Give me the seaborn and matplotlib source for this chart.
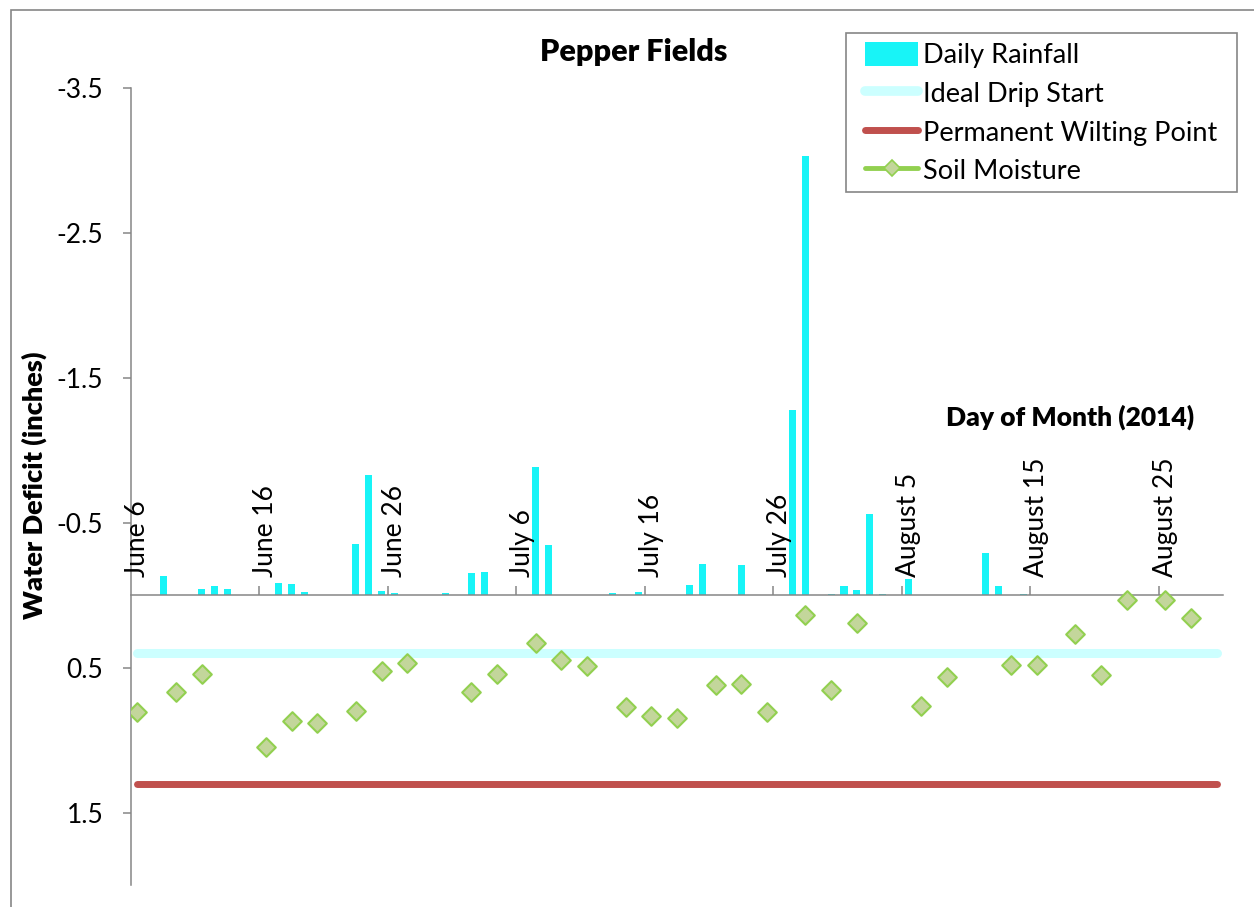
import numpy as np
import pandas as pd
import matplotlib
matplotlib.use("Agg")
import matplotlib.pyplot as plt
import matplotlib.transforms as mtransforms
from matplotlib.patches import Patch, Rectangle
from matplotlib.lines import Line2D
import seaborn as sns

# ---------------- data ----------------
n_days = 85  # June 6 .. August 29, 2014
tick_labels = ['June 6', 'June 16', 'June 26', 'July 6', 'July 16', 'July 26',
               'August 5', 'August 15', 'August 25']
y_ticks = [-3.5, -2.5, -1.5, -0.5, 0.5, 1.5]
y_tick_labels = ['-3.5', '-2.5', '-1.5', '-0.5', '0.5', '1.5']

rain_days = [2, 5, 6, 7, 11, 12, 13, 17, 18, 19, 20, 24, 26, 27, 31, 32, 37, 39,
             43, 44, 47, 51, 52, 54, 55, 56, 57, 58, 60, 66, 67, 69]
rain_values = [-0.13, -0.046, -0.06, -0.04, -0.085, -0.076, -0.02, -0.35, -0.826,
               -0.028, -0.014, -0.012, -0.152, -0.16, -0.883, -0.347, -0.016, -0.025,
               -0.067, -0.214, -0.207, -1.276, -3.034, -0.01, -0.064, -0.039, -0.559,
               -0.01, -0.11, -0.29, -0.066, -0.011]

soil_days = [0, 3, 5, 10, 12, 14, 17, 19, 21, 26, 28, 31, 33, 35, 38, 40, 42, 45,
             47, 49, 52, 54, 56, 61, 63, 68, 70, 73, 75, 77, 80, 82]
soil_values = [0.806, 0.668, 0.541, 1.05, 0.870, 0.879, 0.80, 0.521, 0.47, 0.67,
               0.541, 0.33, 0.445, 0.488, 0.774, 0.836, 0.845, 0.619, 0.615, 0.803,
               0.134, 0.652, 0.19, 0.767, 0.567, 0.479, 0.479, 0.268, 0.548, 0.036,
               0.036, 0.155]

ideal_drip_start = 0.4
wilting_point = 1.3

# ---------------- style ----------------
RAIN_C = '#18F4F7'
DRIP_C = '#CCFFFF'
WILT_C = '#C0504D'
SOIL_FACE = '#C3D69B'
SOIL_EDGE = '#92D050'
GRAY = '#868686'

sns.set_theme(style='white')
plt.rcParams['font.family'] = ['Lato', 'DejaVu Sans']
plt.rcParams['text.color'] = 'black'
plt.rcParams['axes.labelcolor'] = 'black'
plt.rcParams['xtick.color'] = 'black'
plt.rcParams['ytick.color'] = 'black'

W, H = 1254, 907
fig = plt.figure(figsize=(W / 100, H / 100), dpi=100)
ax = fig.add_axes([131 / W, 22 / H, 1092 / W, 797 / H])

rain_df = pd.DataFrame({'day': rain_days, 'rain': rain_values})
sns.barplot(data=rain_df, x='day', y='rain', native_scale=True, width=0.55,
            color=RAIN_C, saturation=1, errorbar=None, linewidth=0, ax=ax, zorder=2)

days = np.arange(n_days)
sns.lineplot(x=days, y=np.full(n_days, ideal_drip_start), color=DRIP_C,
             linewidth=6.5, solid_capstyle='round', ax=ax, zorder=3)
sns.lineplot(x=days, y=np.full(n_days, wilting_point), color=WILT_C,
             linewidth=5, solid_capstyle='round', ax=ax, zorder=3)

sns.scatterplot(x=soil_days, y=soil_values, marker='D', s=90, color=SOIL_FACE,
                edgecolor=SOIL_EDGE, linewidth=1.5, ax=ax, zorder=4)

ax.set_xlim(-0.5, n_days - 0.5)
ax.set_ylim(2.0, -3.5)
ax.set_yticks(y_ticks)
ax.set_yticklabels(y_tick_labels)
ax.set_xticks(np.arange(9.5, 80, 10))
ax.set_xticklabels([])
ax.set_xlabel('')
ax.set_ylabel('')
ax.spines['bottom'].set_position(('data', 0))
ax.spines['top'].set_visible(False)
ax.spines['right'].set_visible(False)
for s in ['left', 'bottom']:
    ax.spines[s].set_color(GRAY)
    ax.spines[s].set_linewidth(1.1)
ax.tick_params(axis='x', direction='in', length=6.5, color=GRAY, width=1.1, bottom=True)
ax.tick_params(axis='y', direction='out', length=6, color=GRAY, width=1.1, left=True,
               pad=14, labelsize=19, labelcolor='black')

trans = mtransforms.offset_copy(ax.transData, fig=fig, x=0, y=18, units='dots')
for i, lab in enumerate(tick_labels):
    ax.text(i * 10, 0, lab, transform=trans, rotation=90, ha='center', va='bottom',
            fontsize=19, color='black')

fig.text(634 / W, 1 - 52 / H, 'Pepper Fields', ha='center', va='center',
         fontsize=22, fontweight='heavy', color='black')
fig.text(34 / W, 1 - 485 / H, 'Water Deficit (inches)', ha='center', va='center',
         rotation=90, fontsize=19.5, fontweight='heavy', color='black')
fig.text(1070 / W, 1 - 417 / H, 'Day of Month (2014)', ha='center', va='center',
         fontsize=19, fontweight='heavy', color='black')

# legend frame drawn at the reference box, legend content placed inside it
fig.add_artist(Rectangle((846 / W, 1 - 192 / H), 391 / W, 159 / H,
                         transform=fig.transFigure, facecolor='white',
                         edgecolor=GRAY, lw=1.2, zorder=5))
handles = [
    Patch(facecolor=RAIN_C, edgecolor='none', label='Daily Rainfall'),
    Line2D([], [], color=DRIP_C, lw=7, solid_capstyle='round', label='Ideal Drip Start'),
    Line2D([], [], color=WILT_C, lw=5, solid_capstyle='round', label='Permanent Wilting Point'),
    Line2D([], [], color=SOIL_EDGE, lw=3.5, marker='D', ms=8, mfc=SOIL_FACE,
           mec=SOIL_EDGE, mew=1.2, label='Soil Moisture'),
]
leg = fig.legend(handles=handles, loc='upper left',
                 bbox_to_anchor=(865 / W, 1 - 42 / H), frameon=False,
                 fontsize=19.5, handlelength=1.96, handleheight=1.0,
                 handletextpad=0.18, labelspacing=0.45, borderpad=0,
                 borderaxespad=0, labelcolor='black')
leg.set_zorder(6)

fig.add_artist(Rectangle((10.5 / W, -0.1), 2, (1 - 9.5 / H) + 0.1,
                         transform=fig.transFigure, fill=False, edgecolor=GRAY, lw=1.2))

fig.savefig('out.png', dpi=100)
